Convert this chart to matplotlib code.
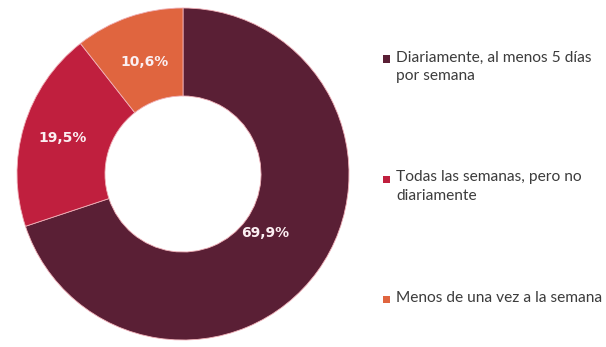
import matplotlib
matplotlib.use("Agg")
import matplotlib.pyplot as plt
import numpy as np
from matplotlib.patches import Rectangle

categories = ["Diariamente, al menos 5 días\npor semana",
              "Todas las semanas, pero no\ndiariamente",
              "Menos de una vez a la semana"]
values = [69.9, 19.5, 10.6]
labels = ["69,9%", "19,5%", "10,6%"]
colors = ["#5a1f35", "#c01f3e", "#e0653f"]
label_dist = [0.61, 0.76, 0.715]

plt.rcParams['font.family'] = ['Lato', 'DejaVu Sans']

fig = plt.figure(figsize=(6.06, 3.47), dpi=100)
W, H = 606, 347
cx, cy, r = 183, 174, 166
ax = fig.add_axes([(cx - r) / W, (H - cy - r) / H, 2 * r / W, 2 * r / H])
wedges, _ = ax.pie(values, colors=colors, startangle=90, counterclock=False,
                   radius=1.0, wedgeprops=dict(width=0.53, edgecolor="#f0b0b8", linewidth=0.6))
ax.set_xlim(-1, 1)
ax.set_ylim(-1, 1)
ax.set_aspect("equal")
ax.axis("off")

for w, lab, d in zip(wedges, labels, label_dist):
    ang = np.deg2rad((w.theta1 + w.theta2) / 2)
    ax.text(d * np.cos(ang), d * np.sin(ang), lab, ha="center", va="center",
            color="#fbeff2", fontsize=10, fontweight="bold", family="DejaVu Sans")

legend_y = [59, 179, 299]
for cat, col, y in zip(categories, colors, legend_y):
    fig.patches.append(Rectangle((383 / W, (H - y - 3.5) / H), 7 / W, 7 / H,
                                 transform=fig.transFigure, facecolor=col, edgecolor="none"))
    fig.text(396 / W, (H - y + 8.5) / H, cat, ha="left", va="top", fontsize=11.2,
             color="#3c3c3c", linespacing=1.45)

fig.savefig("out.png", dpi=100, facecolor="white")
